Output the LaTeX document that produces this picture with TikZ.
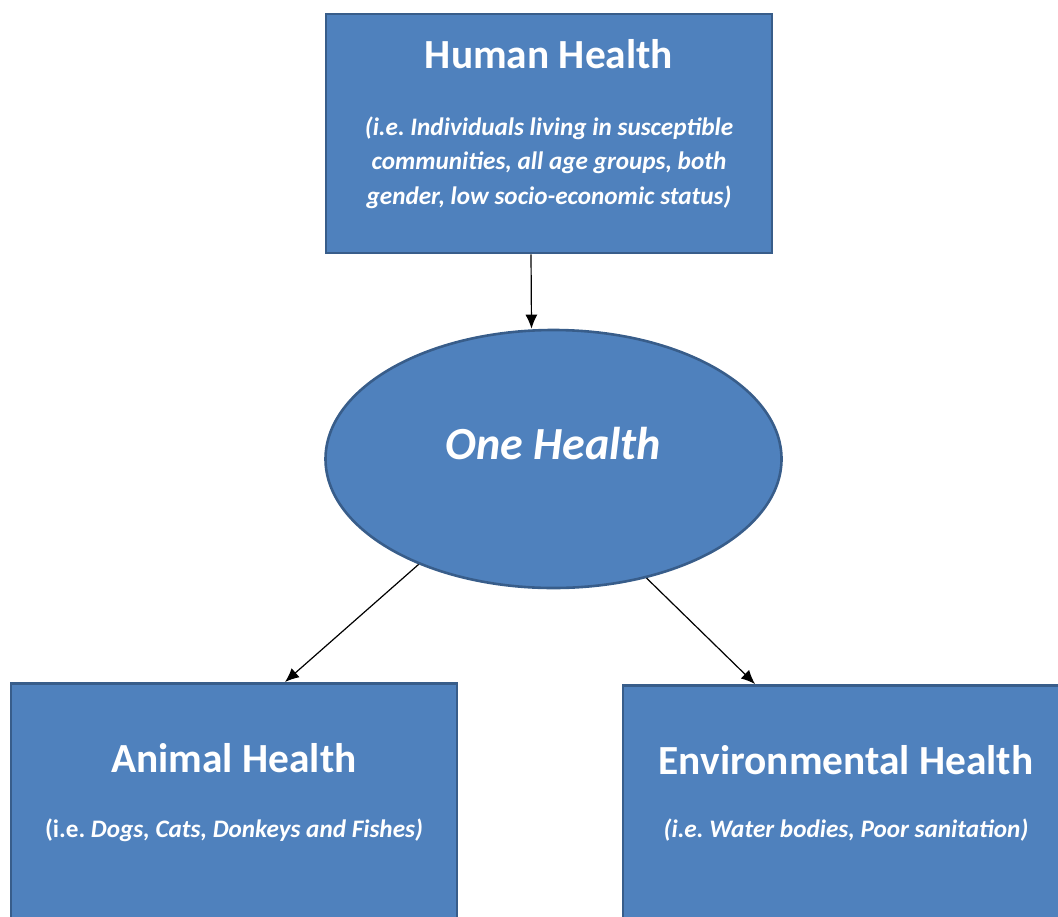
\documentclass[tikz,border=0pt]{standalone}
\usepackage{fontspec}
\setmainfont{Carlito}
\usetikzlibrary{shapes.geometric,arrows.meta,positioning}
\frenchspacing

\definecolor{boxblue}{HTML}{4F81BD}
\definecolor{boxedge}{HTML}{385D8A}

\tikzset{
  healthbox/.style={draw=boxedge, fill=boxblue, line width=1.3pt, inner sep=0pt},
  boxtitle/.style={text=white, font=\fontsize{20.7}{24}\selectfont\bfseries},
  boxnote/.style={text=white, align=center, font=\fontsize{12.6}{17.25}\selectfont\bfseries\itshape},
}

\begin{document}
\begin{tikzpicture}[x=0.5pt, y=-0.5pt, >={Latex[length=7pt,width=6pt]}]
  \useasboundingbox (0,0) rectangle (1058,916);
  \clip (0,0) rectangle (1058,916);

  % top box
  \node[healthbox, minimum width=223pt, minimum height=119.5pt] (human) at (549,133.5) {};
  \node[boxtitle] (humantitle) at ([yshift=-20.5pt]human.north) {Human Health};
  \node[boxnote] (humannote) at ([yshift=-75pt]human.north)
    {(i.e. Individuals living in susceptible\\communities, all age groups, both\\gender, low socio-economic status)};

  % centre ellipse
  \node[healthbox, ellipse, minimum width=228pt, minimum height=129pt] (one) at (553.5,459) {};
  \node[boxtitle, font=\fontsize{23}{27}\selectfont\bfseries\itshape] (onetitle)
    at ([yshift=7.5pt]one.center) {One Health};

  % bottom boxes, running off the page
  \node[healthbox, anchor=north, minimum width=223pt, minimum height=160pt] (animal) at (234,682) {};
  \node[boxtitle] (animaltitle) at ([yshift=-38pt]animal.north) {Animal Health};
  \node[boxnote] (animalnote) at ([yshift=-74pt]animal.north)
    {\upshape(i.e.\ \itshape Dogs, Cats, Donkeys and Fishes)};

  \node[healthbox, anchor=north, minimum width=223pt, minimum height=160pt] (environ) at (846,684) {};
  \node[boxtitle] (environtitle) at ([yshift=-38pt]environ.north) {Environmental Health};
  \node[boxnote] (environnote) at ([yshift=-73pt]environ.north)
    {(i.e. Water bodies, Poor sanitation)};

  % links
  \draw[->, line width=0.6pt] ([xshift=-9pt]human.south) -- ([xshift=-11pt]one.north);
  \draw[->, line width=0.6pt] (one.218) -- ([xshift=25.5pt]animal.north);
  \draw[->, line width=0.6pt] (one.308) -- ([xshift=-45.5pt]environ.north);
\end{tikzpicture}
\end{document}
